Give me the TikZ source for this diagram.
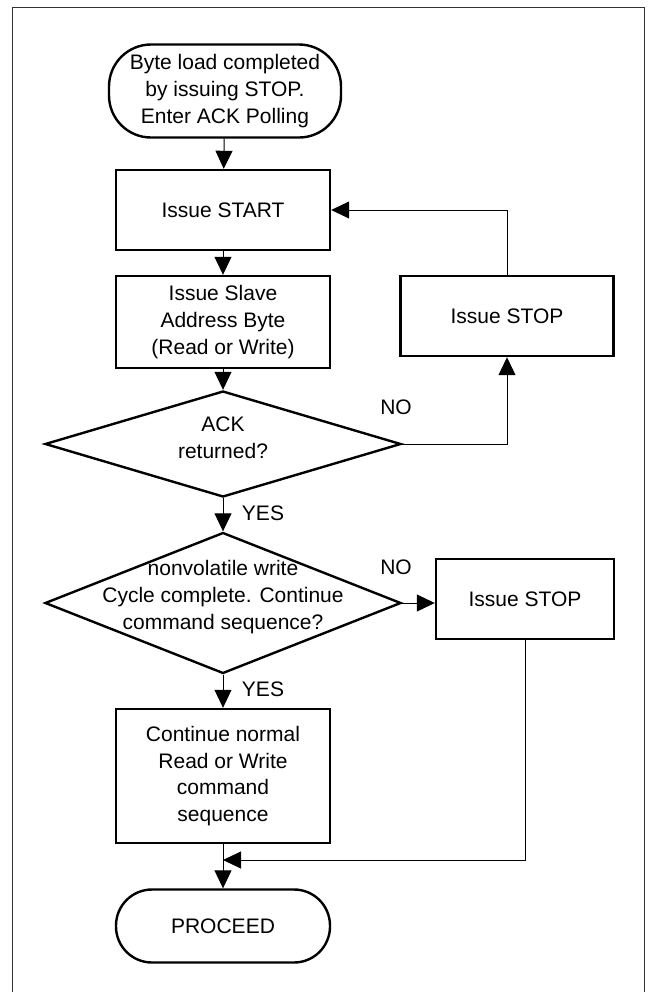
\documentclass[tikz,border=0pt]{standalone}
\usepackage{fontspec}
\setmainfont{Liberation Sans}
\usetikzlibrary{arrows.meta, shapes.geometric}
\newcommand{\flowfont}{\fontsize{10.5pt}{13.3pt}\selectfont}
\tikzset{
  terminal/.style={
    minimum width=116pt,
    minimum height=46pt,
    align=center,
    draw=black,
    line width=1.2pt,
    rounded corners=21pt,
    inner sep=0pt,
    font=\flowfont
  },
  process/.style={
    minimum width=107pt,
    minimum height=40pt,
    align=center,
    draw=black,
    line width=1.2pt,
    inner sep=0pt,
    font=\flowfont
  },
  decision/.style={
    shape=diamond,
    minimum width=178pt,
    minimum height=53pt,
    draw=black,
    line width=1.2pt,
    inner sep=0pt
  },
  note/.style={
    align=center,
    inner sep=0pt,
    font=\flowfont
  },
  arrow/.style={draw,line width=0.5pt,-{Triangle[length=9pt,width=8.5pt]}}
}
\begin{document}
\begin{tikzpicture}[x=0.5pt,y=-0.5pt]
      \useasboundingbox (0,0) rectangle (656,992);
      \draw[black!80,line width=0.5pt] (12,992) |- (644,7) -- (644,992);
      \node (begin) [terminal, minimum width=116pt, minimum height=46.5pt] at (225,91) {Byte load completed\\by issuing STOP.\\Enter ACK Polling};
      \node (start) [process] at (223,210) {Issue START};
      \node (slave) [process, minimum height=46pt] at (223,322) {Issue Slave\\Address Byte\\(Read or Write)};
      \node (ack) [decision, label={[note, yshift=3pt]center:{ACK\\returned?}}] at (223,444) {};
      \node (cycle) [decision, minimum height=70.5pt, label={[note, yshift=3pt]center:{nonvolatile write\\Cycle complete. Continue\\command sequence?}}] at (223,603) {};
      \node (cont) [process, minimum height=67pt] at (223,776) {Continue normal\\Read or Write\\command\\sequence};
      \node (proceed) [terminal, minimum width=107pt, minimum height=36.5pt, rounded corners=18pt] at (223,926) {PROCEED};
      \node (stopa) [process, minimum width=106.5pt] at (507,316) {Issue STOP};
      \node (stopb) [process, minimum width=89pt] at (525,599) {Issue STOP};
      \node (noa) [note] at (396,407) {NO};
      \node (nob) [note] at (396,567) {NO};
      \node (yesa) [note] at (263,513) {YES};
      \node (yesb) [note] at (263,689) {YES};
      \coordinate (merge) at (223,860);
      \path
      (begin) edge[arrow] (start)
      (start) edge[arrow] (slave)
      (slave) edge[arrow] (ack)
      (ack) edge[arrow] (cycle)
      (cycle) edge[arrow] (cont)
      (cont) edge[arrow] (proceed)
      ;
      \draw[arrow] (ack.east) -| (stopa.south);
      \draw[arrow] (stopa.north) |- (start.east);
      \draw[arrow] (cycle.east) -- (cycle.east -| stopb.west);
      \draw[arrow] (stopb.south) |- (merge);
  \end{tikzpicture}
\end{document}
